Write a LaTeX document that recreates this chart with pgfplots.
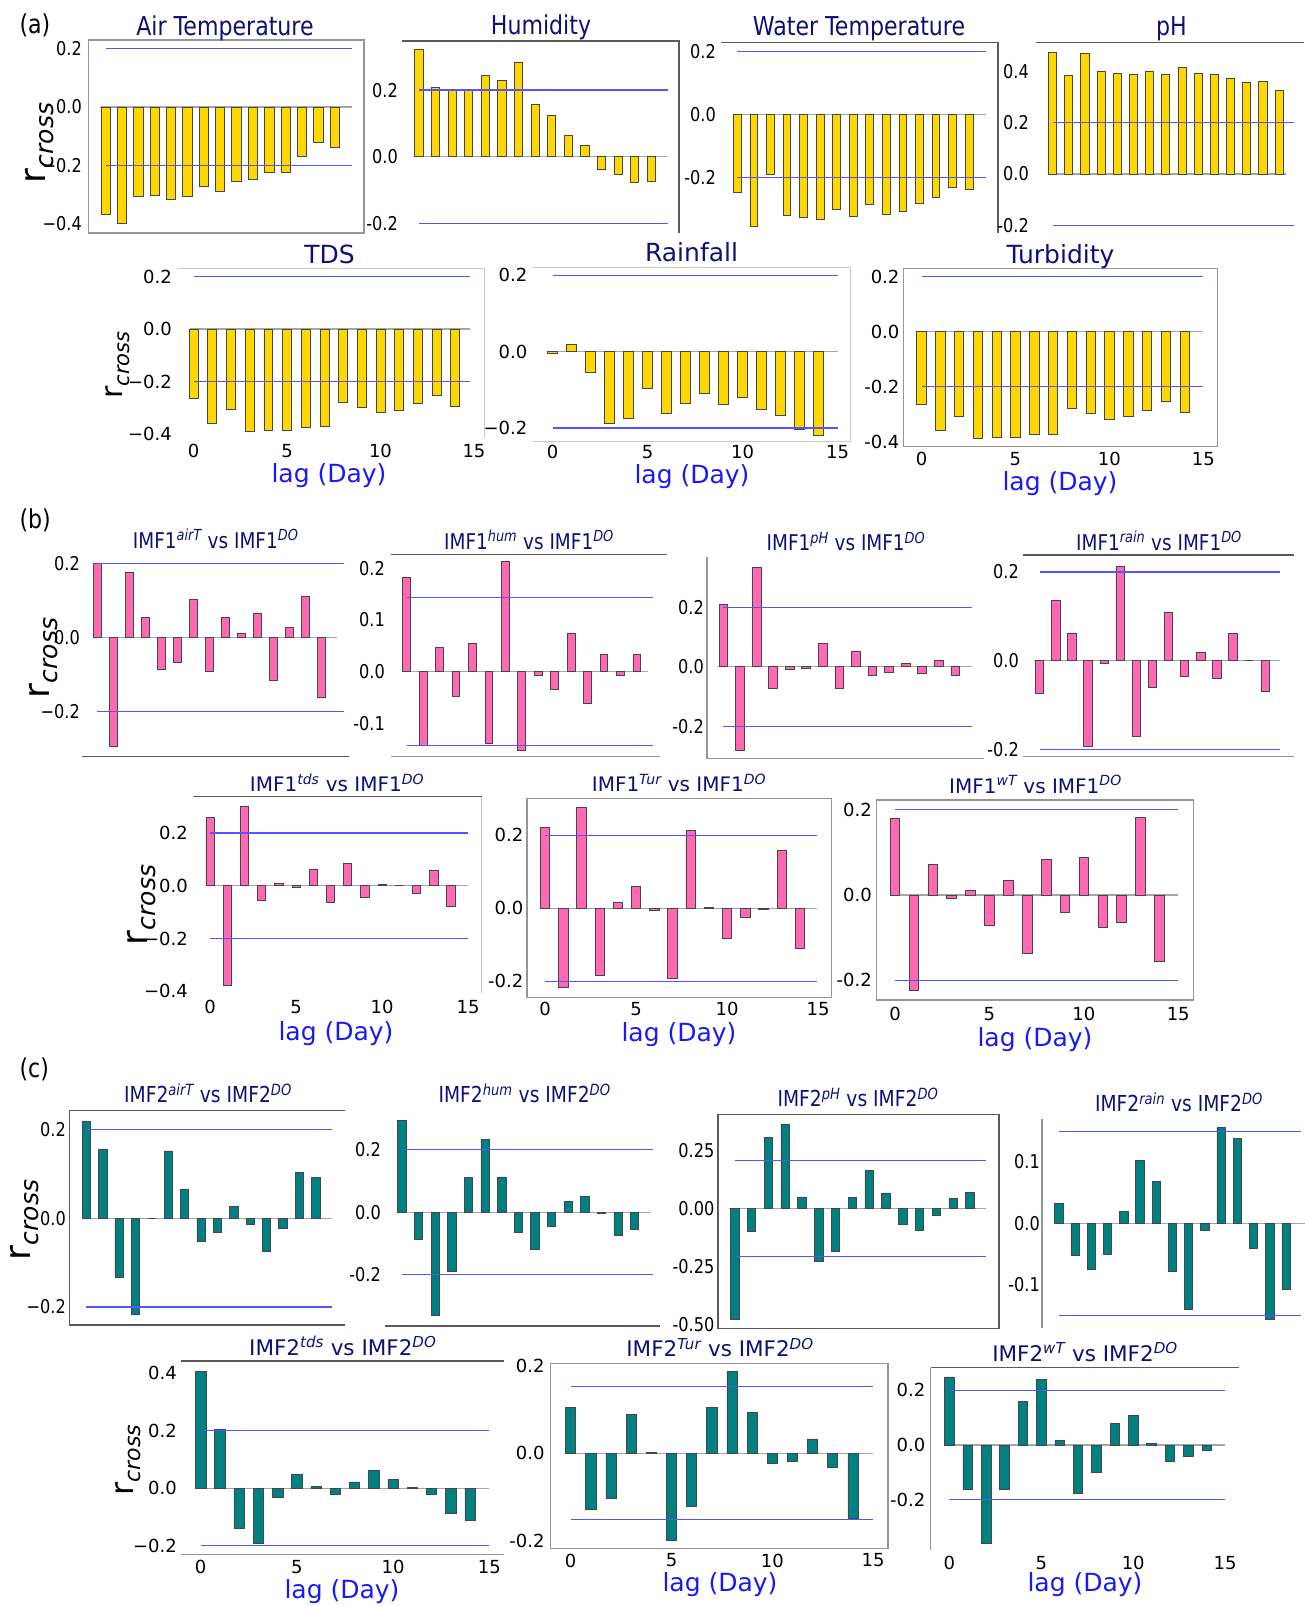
\documentclass[border=0pt]{standalone}
\usepackage{fontspec}
\setmainfont{DejaVu Sans}
\newfontfamily\cfont{DejaVu Sans}[FakeStretch=0.85]
\usepackage{pgfplots}
\pgfplotsset{compat=1.18}
\definecolor{goldc}{RGB}{255,215,0}
\definecolor{pinkc}{RGB}{255,105,180}
\definecolor{tealc}{RGB}{0,128,128}
\definecolor{edgec}{RGB}{70,70,70}
\definecolor{bluec}{RGB}{85,85,255}
\definecolor{zeroc}{RGB}{165,165,165}
\definecolor{titlec}{RGB}{15,15,120}
\definecolor{labc}{RGB}{25,25,245}
\definecolor{framec}{RGB}{150,150,150}
\definecolor{framed}{RGB}{90,90,90}
\definecolor{framel}{RGB}{200,200,200}
\newcommand\tickA{\cfont\fontsize{19}{22}\selectfont}
\newcommand\tickB{\fontsize{18}{21}\selectfont}
\newcommand\tA{\cfont\fontsize{26}{30}\selectfont}
\newcommand\tAb{\fontsize{25}{30}\selectfont}
\newcommand\tB{\cfont\fontsize{21.7}{26}\selectfont}
\newcommand\tBb{\fontsize{20}{24}\selectfont}
\newcommand\tC{\cfont\fontsize{22}{26}\selectfont}
\newcommand\tCb{\fontsize{21.5}{26}\selectfont}
\newcommand\setpanel[8]{%
  \pgfmathsetmacro\pxmin{(#5-#1)/#2}%
  \pgfmathsetmacro\pxmax{(#6-#1)/#2}%
  \pgfmathsetmacro\pymax{(#3-#7)/#4}%
  \pgfmathsetmacro\pymin{(#3-#8)/#4}%
  \pgfmathsetmacro\pw{#6-#5}%
  \pgfmathsetmacro\ph{#8-#7}%
  \pgfmathsetmacro\pyBn{-#8}%
  \def\pxL{#5}}
\pgfplotsset{
  base/.style={scale only axis, anchor=south west, clip=false,
    axis line style={draw=none}, major tick length=0pt, tick style={draw=none},
    every tick label/.append style={inner sep=0pt},
    xtick=\empty, yticklabel style={anchor=east}, xticklabel style={anchor=north}},
  pan/.style={width=\pw pt, height=\ph pt, at={(\pxL pt,\pyBn pt)},
    xmin=\pxmin, xmax=\pxmax, ymin=\pymin, ymax=\pymax},
  lagx/.style={xtick={0,5,10,15}, xticklabels={0,5,10,15},
    xticklabel style={yshift=-#1pt, font=\tickB}},
}
\newcommand\zl[2]{\addplot[zeroc, line width=1.4pt] coordinates {(#1,0) (#2,0)};}
\newcommand\bl[3]{\addplot[bluec, line width=1.2pt] coordinates {(#2,#1) (#3,#1)};
  \addplot[bluec, line width=1.2pt] coordinates {(#2,-#1) (#3,-#1)};}
\newcommand\bars[3]{\addplot[ybar, bar shift=0pt, bar width=#2, fill=#1, draw=edgec, line width=0.7pt] coordinates {#3};}
\newcommand\rcross[3]{\node[rotate=90, anchor=center] at (#1) {\fontsize{#2}{#2}\selectfont r\raisebox{-0.22em}{\fontsize{#3}{#3}\selectfont\itshape cross}};}
\newcommand\lag[1]{\node[anchor=base, text=labc, font=\fontsize{25}{30}\selectfont] at (#1) {lag (Day)};}
\newcommand\IMF[3]{IMF#1\textsuperscript{\itshape #2} vs IMF#1\textsuperscript{\itshape DO}}
\begin{document}
\begin{tikzpicture}[x=1pt,y=-1pt]
\useasboundingbox (0,0) rectangle (1304,1606);
% ---------------- frames ----------------
\draw[framec, line width=1.3pt] (88.4,40) rectangle (364,233);
\draw[framed, line width=1.3pt] (402,41) -- (679,41) -- (679,233);
\draw[framed, line width=1.3pt] (721,42.3) -- (998,42.3) -- (998,233);
\draw[framed, line width=1.3pt] (1035.8,42.7) -- (1304,42.7);
\draw[framel, line width=1.3pt] (177.5,268.3) -- (484.6,268.3) -- (484.6,438);
\draw[framel, line width=1.3pt] (532.8,267.3) -- (850.7,267.3) -- (850.7,441.7) -- (532.8,441.7);
\draw[framec, line width=1.3pt] (903.4,268.3) rectangle (1217.6,446.7);
\draw[framed, line width=1.3pt] (82,756.7) -- (349.4,756.7);
\draw[framed, line width=1.3pt] (390.6,554.3) -- (667,554.3);
\draw[framec, line width=1.3pt] (390.6,756.7) -- (660,756.7);
\draw[framec, line width=1.3pt] (707,556.7) -- (707,758.3) -- (983.7,758.3);
\draw[framed, line width=1.3pt] (1022.5,555) -- (1293.6,555);
\draw[framec, line width=1.3pt] (1022.5,756.7) -- (1293.6,756.7);
\draw[framed, line width=1.3pt] (193.2,796.7) -- (481.7,796.7);
\draw[framel, line width=1.3pt] (481.7,796.7) -- (481.7,993.3);
\draw[framec, line width=1.3pt] (527,798.3) rectangle (831.4,997.3);
\draw[framec, line width=1.3pt] (876.4,800) rectangle (1193.2,1000);
\draw[framed, line width=1.3pt] (345,1110.7) -- (69.4,1110.7) -- (69.4,1325) -- (345,1325);
\draw[framed, line width=1.3pt] (385,1326) -- (660,1326);
\draw[framed, line width=1.3pt] (718,1114.3) rectangle (999.1,1328.3);
\draw[framec, line width=1.3pt] (1042,1119.3) -- (1042,1328.3);
\draw[framed, line width=1.3pt] (181.4,1361) -- (503.5,1361);
\draw[framec, line width=1.3pt] (181.4,1554.3) -- (503.5,1554.3);
\draw[framec, line width=1.3pt] (550.7,1363.3) rectangle (888,1548.3);
\draw[framed, line width=1.3pt] (1239.4,1367.7) -- (930.5,1367.7);
\draw[framec, line width=1.3pt] (930.5,1367.7) -- (930.5,1550);
% ---------------- panel letters, titles, labels ----------------
\node[anchor=base west, font=\cfont\fontsize{26}{30}\selectfont] at (16,33) {(a)};
\node[anchor=base west, font=\cfont\fontsize{26}{30}\selectfont] at (16,528) {(b)};
\node[anchor=base west, font=\cfont\fontsize{26}{30}\selectfont] at (16,1077) {(c)};
\begin{scope}[every node/.style={anchor=base, text=titlec}]
\node[font=\tA] at (225,35) {Air Temperature};
\node[font=\tA] at (541,34) {Humidity};
\node[font=\tA] at (859,35) {Water Temperature};
\node[font=\tA] at (1171.5,35) {pH};
\node[font=\tAb] at (329.5,263) {TDS};
\node[font=\tAb] at (691.5,261) {Rainfall};
\node[font=\tAb] at (1060.5,263) {Turbidity};
\node[font=\tB] at (215.7,548) {\IMF{1}{airT}{}};
\node[font=\tB] at (529,549) {\IMF{1}{hum}{}};
\node[font=\tB] at (846,550.7) {\IMF{1}{pH}{}};
\node[font=\tB] at (1159,550) {\IMF{1}{rain}{}};
\node[font=\tBb] at (337,791.7) {\IMF{1}{tds}{}};
\node[font=\tBb] at (679,791.7) {\IMF{1}{Tur}{}};
\node[font=\tBb] at (1035.5,793.3) {\IMF{1}{wT}{}};
\node[font=\tC] at (208,1102.7) {\IMF{2}{airT}{}};
\node[font=\tC] at (524.6,1102.7) {\IMF{2}{hum}{}};
\node[font=\tC] at (858,1106.7) {\IMF{2}{pH}{}};
\node[font=\tC] at (1179,1111.7) {\IMF{2}{rain}{}};
\node[font=\tCb] at (342.8,1355) {\IMF{2}{tds}{}};
\node[font=\tCb] at (720,1356.7) {\IMF{2}{Tur}{}};
\node[font=\tCb] at (1085,1361) {\IMF{2}{wT}{}};
\end{scope}
\rcross{40,143}{36}{25}
\rcross{117.5,365}{30}{21}
\rcross{44,658}{36}{25}
\rcross{142,905}{36}{25}
\rcross{25,1220}{36}{25}
\rcross{128.6,1460}{32}{22}
\lag{329,482}
\lag{692,483.5}
\lag{1060,490}
\lag{336,1040}
\lag{679,1041.7}
\lag{1035,1046.7}
\lag{342,1598}
\lag{720,1591.7}
\lag{1085,1591.7}
% ================= (a) =================
\setpanel{105.6}{16.36}{107}{291.5}{84}{364}{40}{233}
\begin{axis}[base,pan,ytick={-0.4,-0.2,0,0.2},yticklabels={−0.4,−0.2,0.0,0.2},yticklabel style={xshift=-2pt,font=\tickA}]
\zl{-0.34}{15.07}
\bars{goldc}{0.57}{(0,-0.367) (1,-0.398) (2,-0.307) (3,-0.302) (4,-0.316) (5,-0.307) (6,-0.273) (7,-0.290) (8,-0.255) (9,-0.249) (10,-0.223) (11,-0.225) (12,-0.171) (13,-0.121) (14,-0.138)}
\bl{0.2}{0}{15.07}
\end{axis}
\setpanel{418.8}{16.6}{156.7}{333}{400}{679}{41}{233}
\begin{axis}[base,pan,ytick={-0.2,0,0.2},yticklabels={-0.2,0.0,0.2},yticklabel style={xshift=-2pt,font=\tickA}]
\zl{-0.25}{15}
\bars{goldc}{0.5}{(0,0.322) (1,0.208) (2,0.202) (3,0.202) (4,0.245) (5,0.228) (6,0.282) (7,0.158) (8,0.123) (9,0.065) (10,0.033) (11,-0.037) (12,-0.052) (13,-0.078) (14,-0.075)}
\bl{0.2}{0}{15}
\end{axis}
\setpanel{737.2}{16.56}{114.7}{315}{718}{998}{42}{233}
\begin{axis}[base,pan,ytick={-0.2,0,0.2},yticklabels={-0.2,0.0,0.2},yticklabel style={xshift=-2pt,font=\tickA}]
\zl{-0.25}{15}
\bars{goldc}{0.47}{(0,-0.247) (1,-0.353) (2,-0.188) (3,-0.321) (4,-0.326) (5,-0.332) (6,-0.299) (7,-0.323) (8,-0.286) (9,-0.316) (10,-0.308) (11,-0.281) (12,-0.262) (13,-0.231) (14,-0.237)}
\bl{0.2}{0}{15}
\end{axis}
\setpanel{1052.5}{16.18}{174}{257}{1031}{1304}{43}{233}
\begin{axis}[base,pan,ytick={-0.2,0,0.2,0.4},yticklabels={-0.2,0.0,0.2,0.4},yticklabel style={xshift=-2pt,font=\tickA}]
\zl{-0.28}{14.4}
\bars{goldc}{0.5}{(0,0.474) (1,0.384) (2,0.468) (3,0.399) (4,0.392) (5,0.386) (6,0.399) (7,0.386) (8,0.416) (9,0.392) (10,0.386) (11,0.371) (12,0.357) (13,0.361) (14,0.326)}
\bl{0.2}{0}{14.95}
\end{axis}
\setpanel{193.6}{18.69}{329}{262.5}{174}{484.6}{268.3}{441}
\begin{axis}[base,pan,lagx=3,ytick={-0.4,-0.2,0,0.2},yticklabels={−0.4,−0.2,0.0,0.2},yticklabel style={xshift=-2pt,font=\tickB}]
\zl{-0.2}{14.8}
\bars{goldc}{0.48}{(0,-0.266) (1,-0.361) (2,-0.305) (3,-0.390) (4,-0.386) (5,-0.386) (6,-0.375) (7,-0.372) (8,-0.278) (9,-0.297) (10,-0.318) (11,-0.310) (12,-0.285) (13,-0.251) (14,-0.295)}
\bl{0.2}{0}{14.8}
\end{axis}
\setpanel{552.5}{19.0}{351.7}{381.5}{529.5}{850.7}{267.3}{441.7}
\begin{axis}[base,pan,lagx=3.3,ytick={-0.2,0,0.2},yticklabels={−0.2,0.0,0.2},yticklabel style={xshift=-2pt,font=\tickB}]
\zl{-0.3}{15}
\bars{goldc}{0.5}{(0,-0.005) (1,0.020) (2,-0.054) (3,-0.189) (4,-0.174) (5,-0.095) (6,-0.162) (7,-0.136) (8,-0.110) (9,-0.139) (10,-0.120) (11,-0.152) (12,-0.167) (13,-0.204) (14,-0.218)}
\bl{0.2}{0}{15}
\end{axis}
\setpanel{921.5}{18.79}{331.7}{275}{903.4}{1217.6}{268.3}{446.7}
\begin{axis}[base,pan,lagx=5,ytick={-0.4,-0.2,0,0.2},yticklabels={-0.4,-0.2,0.0,0.2},yticklabel style={xshift=-3.8pt,font=\tickB}]
\zl{-0.2}{15}
\bars{goldc}{0.5}{(0,-0.265) (1,-0.360) (2,-0.307) (3,-0.388) (4,-0.384) (5,-0.383) (6,-0.375) (7,-0.372) (8,-0.279) (9,-0.297) (10,-0.319) (11,-0.309) (12,-0.285) (13,-0.252) (14,-0.295)}
\bl{0.2}{0}{15}
\end{axis}
% ================= (b) =================
\setpanel{97.2}{16.0}{637.3}{369}{82}{349.4}{550}{756.7}
\begin{axis}[base,pan,ytick={-0.2,0,0.2},yticklabels={−0.2,0.0,0.2},yticklabel style={xshift=-2pt,font=\tickA}]
\zl{-0.24}{14.97}
\bars{pinkc}{0.47}{(0,0.200) (1,-0.296) (2,0.176) (3,0.055) (4,-0.086) (5,-0.067) (6,0.102) (7,-0.093) (8,0.053) (9,0.010) (10,0.066) (11,-0.117) (12,0.026) (13,0.112) (14,-0.163)}
\bl{0.2}{0}{15.4}
\end{axis}
\setpanel{406.6}{16.44}{671.7}{516.7}{390.6}{667}{554.3}{756.7}
\begin{axis}[base,pan,ytick={-0.1,0,0.1,0.2},yticklabels={-0.1,0.0,0.1,0.2},yticklabel style={xshift=-5.6pt,font=\tickA}]
\zl{-0.28}{14.7}
\bars{pinkc}{0.47}{(0,0.182) (1,-0.142) (2,0.047) (3,-0.047) (4,0.054) (5,-0.138) (6,0.213) (7,-0.152) (8,-0.007) (9,-0.035) (10,0.075) (11,-0.061) (12,0.033) (13,-0.007) (14,0.033)}
\bl{0.143}{0}{15}
\end{axis}
\setpanel{723.4}{16.56}{666.7}{297.5}{707}{983.7}{556.7}{758.3}
\begin{axis}[base,pan,ytick={-0.2,0,0.2},yticklabels={-0.2,0.0,0.2},yticklabel style={xshift=-3pt,font=\tickA}]
\zl{-0.33}{15}
\bars{pinkc}{0.53}{(0,0.210) (1,-0.280) (2,0.334) (3,-0.072) (4,-0.010) (5,-0.007) (6,0.077) (7,-0.074) (8,0.053) (9,-0.028) (10,-0.020) (11,0.012) (12,-0.023) (13,0.022) (14,-0.028)}
\bl{0.2}{0}{15}
\end{axis}
\setpanel{1039.6}{16.11}{660.7}{444}{1022.5}{1293.6}{555}{756.7}
\begin{axis}[base,pan,ytick={-0.2,0,0.2},yticklabels={-0.2,0.0,0.2},yticklabel style={xshift=-3.5pt,font=\tickA}]
\zl{-0.37}{14.95}
\bars{pinkc}{0.52}{(0,-0.073) (1,0.136) (2,0.062) (3,-0.192) (4,-0.005) (5,0.213) (6,-0.170) (7,-0.059) (8,0.110) (9,-0.035) (10,0.019) (11,-0.039) (12,0.062) (13,0.000) (14,-0.068)}
\bl{0.2}{0}{14.95}
\end{axis}
\setpanel{210}{17.21}{885.7}{264}{193.2}{481.7}{796.7}{993.3}
\begin{axis}[base,pan,lagx=6.7,ytick={-0.4,-0.2,0,0.2},yticklabels={−0.4,−0.2,0.0,0.2},yticklabel style={xshift=-5.2pt,font=\tickB}]
\zl{-0.25}{15}
\bars{pinkc}{0.48}{(0,0.258) (1,-0.379) (2,0.299) (3,-0.055) (4,0.010) (5,-0.008) (6,0.063) (7,-0.064) (8,0.083) (9,-0.044) (10,0.005) (11,0.000) (12,-0.029) (13,0.059) (14,-0.080)}
\bl{0.2}{0}{15}
\end{axis}
\setpanel{545}{18.21}{908.3}{365}{527}{831.4}{798.3}{997.3}
\begin{axis}[base,pan,lagx=4.5,ytick={-0.2,0,0.2},yticklabels={-0.2,0.0,0.2},yticklabel style={xshift=-3.5pt,font=\tickB}]
\zl{-0.24}{14.96}
\bars{pinkc}{0.52}{(0,0.222) (1,-0.216) (2,0.276) (3,-0.184) (4,0.016) (5,0.061) (6,-0.005) (7,-0.193) (8,0.213) (9,0.003) (10,-0.083) (11,-0.024) (12,-0.003) (13,0.158) (14,-0.109)}
\bl{0.2}{0}{14.96}
\end{axis}
\setpanel{895}{18.88}{895}{426.7}{876.4}{1193.2}{800}{1000}
\begin{axis}[base,pan,lagx=6.8,ytick={-0.2,0,0.2},yticklabels={-0.2,0.0,0.2},yticklabel style={xshift=-4.4pt,font=\tickB}]
\zl{-0.26}{15}
\bars{pinkc}{0.51}{(0,0.179) (1,-0.223) (2,0.071) (3,-0.007) (4,0.012) (5,-0.072) (6,0.035) (7,-0.136) (8,0.084) (9,-0.040) (10,0.089) (11,-0.076) (12,-0.064) (13,0.181) (14,-0.156)}
\bl{0.2}{0}{15}
\end{axis}
% ================= (c) =================
\setpanel{86.3}{16.39}{1218.3}{443}{69.4}{345}{1110.7}{1325}
\begin{axis}[base,pan,ytick={-0.2,0,0.2},yticklabels={−0.2,0.0,0.2},yticklabel style={xshift=-3.4pt,font=\tickA}]
\zl{-0.26}{15}
\bars{tealc}{0.51}{(0,0.219) (1,0.156) (2,-0.134) (3,-0.216) (4,0.000) (5,0.152) (6,0.066) (7,-0.053) (8,-0.032) (9,0.026) (10,-0.013) (11,-0.075) (12,-0.022) (13,0.104) (14,0.093)}
\bl{0.2}{0}{15}
\end{axis}
\setpanel{402}{16.62}{1212.3}{312.5}{385}{660}{1110}{1326}
\begin{axis}[base,pan,ytick={-0.2,0,0.2},yticklabels={-0.2,0.0,0.2},yticklabel style={xshift=-4pt,font=\tickA}]
\zl{-0.26}{15}
\bars{tealc}{0.5}{(0,0.295) (1,-0.088) (2,-0.330) (3,-0.188) (4,0.112) (5,0.232) (6,0.113) (7,-0.065) (8,-0.117) (9,-0.045) (10,0.035) (11,0.052) (12,-0.004) (13,-0.075) (14,-0.056)}
\bl{0.2}{0}{15.1}
\end{axis}
\setpanel{734.7}{16.8}{1208.3}{232}{718}{999.1}{1114.3}{1328.3}
\begin{axis}[base,pan,ytick={-0.5,-0.25,0,0.25},yticklabels={-0.50,-0.25,0.00,0.25},yticklabel style={xshift=-3.4pt,font=\tickA}]
\zl{-0.34}{14.95}
\bars{tealc}{0.5}{(0,-0.477) (1,-0.098) (2,0.305) (3,0.364) (4,0.049) (5,-0.227) (6,-0.187) (7,0.046) (8,0.162) (9,0.066) (10,-0.068) (11,-0.093) (12,-0.030) (13,0.042) (14,0.069)}
\bl{0.207}{0}{14.95}
\end{axis}
\setpanel{1058.8}{16.23}{1223.3}{613.5}{1042}{1304}{1119.3}{1328.3}
\begin{axis}[base,pan,ytick={-0.1,0,0.1},yticklabels={-0.1,0.0,0.1},yticklabel style={xshift=-2pt,font=\tickA}]
\zl{-0.26}{15.3}
\bars{tealc}{0.51}{(0,0.032) (1,-0.052) (2,-0.075) (3,-0.051) (4,0.020) (5,0.102) (6,0.068) (7,-0.078) (8,-0.141) (9,-0.011) (10,0.156) (11,0.138) (12,-0.040) (13,-0.157) (14,-0.107)}
\bl{0.15}{0}{14.95}
\end{axis}
\setpanel{200.7}{19.24}{1488.3}{287.3}{181.4}{503.5}{1361}{1554.3}
\begin{axis}[base,pan,lagx=5.7,ytick={-0.2,0,0.2,0.4},yticklabels={−0.2,0.0,0.2,0.4},yticklabel style={xshift=-4.4pt,font=\tickB}]
\zl{-0.26}{15}
\bars{tealc}{0.54}{(0,0.408) (1,0.206) (2,-0.138) (3,-0.193) (4,-0.030) (5,0.049) (6,0.008) (7,-0.022) (8,0.022) (9,0.061) (10,0.032) (11,0.003) (12,-0.022) (13,-0.087) (14,-0.113)}
\bl{0.2}{0}{15}
\end{axis}
\setpanel{570.7}{20.16}{1453.3}{437.5}{550.7}{888}{1363.3}{1548.3}
\begin{axis}[base,pan,lagx=5.2,ytick={-0.2,0,0.2},yticklabels={-0.2,0.0,0.2},yticklabel style={xshift=-6pt,font=\tickB}]
\zl{-0.23}{15}
\bars{tealc}{0.5}{(0,0.105) (1,-0.129) (2,-0.103) (3,0.088) (4,0.003) (5,-0.200) (6,-0.122) (7,0.105) (8,0.188) (9,0.094) (10,-0.023) (11,-0.018) (12,0.033) (13,-0.032) (14,-0.148)}
\bl{0.152}{0}{15}
\end{axis}
\setpanel{949.3}{18.39}{1445}{273.3}{930.5}{1239.4}{1367.7}{1550}
\begin{axis}[base,pan,lagx=5.8,ytick={-0.2,0,0.2},yticklabels={-0.2,0.0,0.2},yticklabel style={xshift=-5pt,font=\tickB}]
\zl{-0.25}{15}
\bars{tealc}{0.52}{(0,0.249) (1,-0.162) (2,-0.358) (3,-0.164) (4,0.161) (5,0.241) (6,0.018) (7,-0.176) (8,-0.100) (9,0.079) (10,0.107) (11,0.005) (12,-0.061) (13,-0.043) (14,-0.018)}
\bl{0.2}{0}{15}
\end{axis}
\end{tikzpicture}
\end{document}
